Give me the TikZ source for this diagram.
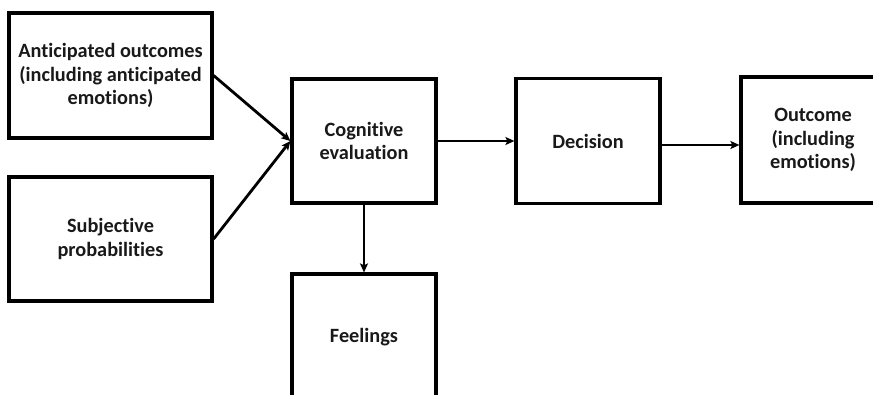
\documentclass[tikz,border=0pt]{standalone}
\usepackage{fontspec}
\setmainfont[Ligatures=NoCommon]{Carlito}
\usetikzlibrary{arrows.meta}
\begin{document}
\begin{tikzpicture}[x=1pt,y=-1pt,
  box/.style={draw=black, line width=3.2pt, align=center, inner sep=0pt,
    font=\fontsize{20.3}{23.5}\selectfont\bfseries, text=black!90},
  conn/.style={line width=2.8pt, -{Stealth[length=9pt,width=8pt,inset=2pt]}}]
\useasboundingbox (0,0) rectangle (873,394);
\clip (0,0) rectangle (873,394);
\node[box, minimum width=203pt, minimum height=125pt] (A) at (110.5,75.5) {Anticipated outcomes\\(including anticipated\\emotions)};
\node[box, minimum width=203pt, minimum height=124pt] (S) at (110.5,239) {Subjective\\probabilities};
\node[box, minimum width=144pt, minimum height=124pt] (C) at (364,141) {Cognitive\\evaluation};
\node[box, minimum width=144pt, minimum height=125pt] (D) at (588,141) {Decision};
\node[box, minimum width=144pt, minimum height=126pt] (O) at (813,140) {Outcome\\(including\\emotions)};
\node[box, minimum width=144pt, minimum height=126pt] (F) at (364,337) {Feelings};
\draw[conn] (A.east) -- (C.west);
\draw[conn] (S.east) -- (C.west);
\draw[conn] (C.east) -- (C.east -| D.west);
\draw[conn] ([yshift=-4pt]D.east) -- ([yshift=-4pt]D.east -| O.west);
\draw[conn] (C.south) -- (F.north);
\end{tikzpicture}
\end{document}
